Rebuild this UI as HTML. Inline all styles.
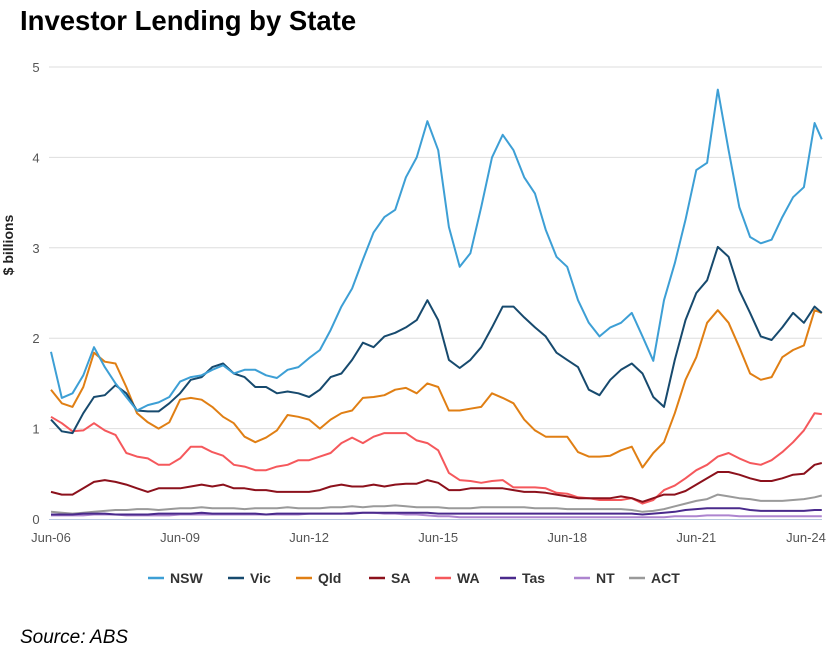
<!DOCTYPE html>
<html><head><meta charset="utf-8"><style>
body{margin:0;background:#fff;font-family:"Liberation Sans",sans-serif;}
svg{display:block}
</style></head><body>
<svg id="chart" width="827" height="652">
<text x="20" y="30" font-size="27.5" font-weight="bold" fill="#000">Investor Lending by State</text>
<text x="20" y="643" font-size="19" font-style="italic" fill="#000">Source: ABS</text>
<text transform="translate(13,245) rotate(-90)" text-anchor="middle" font-size="14" font-weight="bold" fill="#222">$ billions</text>
<g id="grid"></g><g id="series"></g><g id="legend"></g>
</svg>
<script>
const tickLabels=["Jun-06","Jun-09","Jun-12","Jun-15","Jun-18","Jun-21","Jun-24"];
const yTicks=[0,1,2,3,4,5];
const names=["NSW","Vic","Qld","SA","WA","Tas","NT","ACT"];
const colors=["#3d9fd5","#174a6e","#e07f14","#8c111c","#f5585c","#4a2a8c","#ad84cf","#9a9a9a"];
const nsw=[1.85,1.34,1.39,1.59,1.9,1.68,1.5,1.35,1.2,1.26,1.29,1.35,1.52,1.57,1.59,1.65,1.7,1.61,1.65,1.65,1.59,1.56,1.65,1.68,1.78,1.87,2.09,2.35,2.55,2.87,3.17,3.34,3.42,3.78,4.0,4.4,4.08,3.23,2.79,2.94,3.45,4.0,4.25,4.08,3.78,3.6,3.2,2.9,2.79,2.42,2.17,2.02,2.12,2.17,2.28,2.02,1.75,2.42,2.83,3.31,3.86,3.94,4.75,4.08,3.45,3.12,3.05,3.09,3.34,3.56,3.67,4.38,4.2];
const vic=[1.1,0.97,0.95,1.17,1.35,1.37,1.48,1.39,1.2,1.19,1.19,1.28,1.39,1.54,1.57,1.68,1.72,1.61,1.57,1.46,1.46,1.39,1.41,1.39,1.35,1.43,1.57,1.61,1.76,1.95,1.9,2.02,2.06,2.12,2.2,2.42,2.2,1.76,1.67,1.76,1.9,2.12,2.35,2.35,2.23,2.12,2.02,1.84,1.76,1.68,1.43,1.37,1.54,1.65,1.72,1.61,1.35,1.24,1.76,2.2,2.5,2.64,3.01,2.9,2.53,2.28,2.02,1.98,2.12,2.28,2.17,2.35,2.28];
const qld=[1.43,1.28,1.24,1.46,1.84,1.74,1.72,1.46,1.17,1.07,1.0,1.07,1.32,1.34,1.32,1.24,1.13,1.06,0.91,0.85,0.9,0.98,1.15,1.13,1.1,1.0,1.1,1.17,1.2,1.34,1.35,1.37,1.43,1.45,1.39,1.5,1.46,1.2,1.2,1.22,1.24,1.39,1.34,1.28,1.1,0.98,0.91,0.91,0.91,0.74,0.69,0.69,0.7,0.76,0.8,0.57,0.73,0.85,1.17,1.54,1.79,2.17,2.31,2.17,1.9,1.61,1.54,1.57,1.79,1.87,1.92,2.31,2.28];
const sa=[0.3,0.27,0.27,0.34,0.41,0.43,0.41,0.38,0.34,0.3,0.34,0.34,0.34,0.36,0.38,0.36,0.38,0.34,0.34,0.32,0.32,0.3,0.3,0.3,0.3,0.32,0.36,0.38,0.36,0.36,0.38,0.36,0.38,0.39,0.39,0.43,0.4,0.32,0.32,0.34,0.34,0.34,0.34,0.32,0.3,0.3,0.29,0.27,0.25,0.23,0.23,0.23,0.23,0.25,0.23,0.19,0.23,0.27,0.27,0.31,0.38,0.45,0.52,0.52,0.49,0.45,0.42,0.42,0.45,0.49,0.5,0.6,0.62];
const wa=[1.13,1.06,0.97,0.98,1.06,0.98,0.93,0.73,0.69,0.67,0.6,0.6,0.67,0.8,0.8,0.74,0.7,0.6,0.58,0.54,0.54,0.58,0.6,0.65,0.65,0.69,0.73,0.84,0.9,0.84,0.91,0.95,0.95,0.95,0.87,0.84,0.76,0.51,0.43,0.42,0.4,0.42,0.43,0.35,0.35,0.35,0.34,0.29,0.28,0.24,0.23,0.21,0.21,0.21,0.23,0.17,0.21,0.32,0.37,0.45,0.54,0.6,0.69,0.73,0.67,0.62,0.6,0.65,0.74,0.85,0.98,1.17,1.16];
const tas=[0.05,0.05,0.05,0.06,0.06,0.06,0.05,0.05,0.05,0.05,0.06,0.06,0.06,0.06,0.07,0.06,0.06,0.06,0.06,0.06,0.05,0.06,0.06,0.06,0.06,0.06,0.06,0.06,0.06,0.07,0.07,0.07,0.07,0.07,0.07,0.07,0.06,0.06,0.06,0.06,0.06,0.06,0.06,0.06,0.06,0.06,0.06,0.06,0.06,0.06,0.06,0.06,0.06,0.06,0.06,0.05,0.06,0.07,0.08,0.1,0.11,0.12,0.12,0.12,0.12,0.1,0.09,0.09,0.09,0.09,0.09,0.1,0.1];
const nt=[0.04,0.04,0.04,0.04,0.05,0.05,0.05,0.04,0.04,0.04,0.04,0.04,0.05,0.05,0.05,0.05,0.05,0.05,0.05,0.05,0.05,0.05,0.05,0.05,0.06,0.06,0.06,0.06,0.07,0.07,0.07,0.06,0.06,0.05,0.05,0.04,0.03,0.03,0.02,0.02,0.02,0.02,0.02,0.02,0.02,0.02,0.02,0.02,0.02,0.02,0.02,0.02,0.02,0.02,0.02,0.02,0.02,0.02,0.03,0.03,0.03,0.04,0.04,0.04,0.03,0.03,0.03,0.03,0.03,0.03,0.03,0.03,0.03];
const act=[0.08,0.07,0.06,0.07,0.08,0.09,0.1,0.1,0.11,0.11,0.1,0.11,0.12,0.12,0.13,0.12,0.12,0.12,0.11,0.12,0.12,0.12,0.13,0.12,0.12,0.12,0.13,0.13,0.14,0.13,0.14,0.14,0.15,0.14,0.13,0.13,0.13,0.12,0.12,0.12,0.13,0.13,0.13,0.13,0.13,0.12,0.12,0.12,0.11,0.11,0.11,0.11,0.11,0.11,0.1,0.08,0.09,0.11,0.14,0.17,0.2,0.22,0.27,0.25,0.23,0.22,0.2,0.2,0.2,0.21,0.22,0.24,0.26];
const allSeries=[nsw,vic,qld,sa,wa,tas,nt,act];
const NS="http://www.w3.org/2000/svg";
const X0=51,PXM=3.585,Y0=519,PXU=90.4;
function xMonth(m){return X0+m*PXM;}
function yVal(v){return Y0-v*PXU;}
function monthOf(i,n){return i===n-1?215:i*3;}
function mk(tag,attrs,parent){const e=document.createElementNS(NS,tag);for(const k in attrs)e.setAttribute(k,attrs[k]);parent.appendChild(e);return e;}
const grid=document.getElementById('grid');
yTicks.forEach(t=>{
  if(t>0){const l=mk('line',{x1:49,x2:822,y1:yVal(t),y2:yVal(t),stroke:'#dedede','stroke-width':1},grid);
  
  }
  const tx=mk('text',{x:36,y:yVal(t)+5,'text-anchor':'middle','font-size':13,fill:'#555'},grid);
  tx.textContent=t;
  
  
});
const ax=mk('line',{x1:49,x2:822,y1:Y0+0.5,y2:Y0+0.5,stroke:'#b8c8e0','stroke-width':1},grid);


tickLabels.forEach((lab,i)=>{
  const tx=mk('text',{x:Math.min(xMonth(i*36),806),y:542,'text-anchor':'middle','font-size':13,fill:'#555'},grid);
  tx.textContent=lab;
  
  
});
const sg=document.getElementById('series');
for(let s=allSeries.length-1;s>=0;s--){
  const d=allSeries[s];
  const pts=d.map((v,i)=>xMonth(monthOf(i,d.length)).toFixed(1)+','+yVal(v).toFixed(1)).join(' ');
  const p=mk('polyline',{points:pts,fill:'none',stroke:colors[s],'stroke-width':2,'stroke-linejoin':'round'},sg);
  
  
}
const lg=document.getElementById('legend');
const lx=[148,228,296,369,435,500,574,629];
names.forEach((n,i)=>{
  const g=mk('g',{},lg);
  
  
  mk('line',{x1:lx[i],x2:lx[i]+16,y1:578,y2:578,stroke:colors[i],'stroke-width':2.5},g);
  const t=mk('text',{x:lx[i]+22,y:583,'font-size':14,'font-weight':'bold',fill:'#333'},g);
  t.textContent=n;
});
</script>
</body></html>
